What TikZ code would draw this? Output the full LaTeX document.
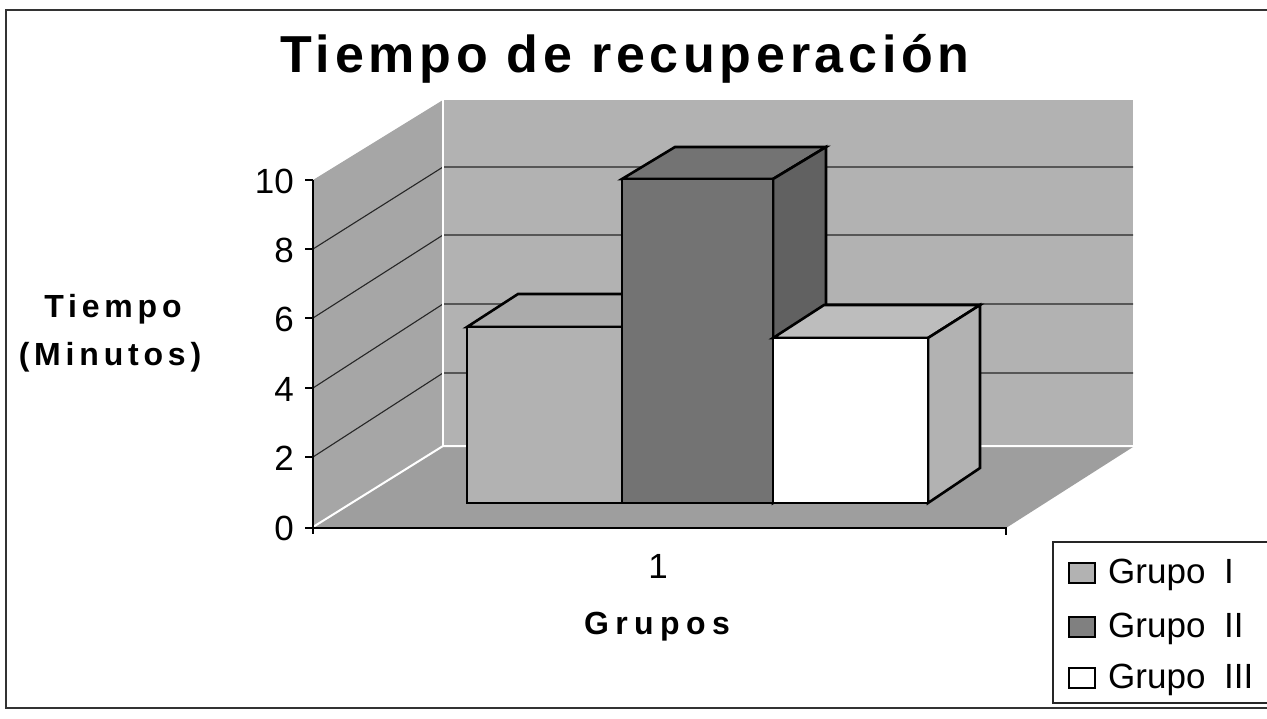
\documentclass[tikz,border=0pt]{standalone}
\usepackage{fontspec}
\setmainfont{Liberation Sans}
\newfontfamily\titlefont[LetterSpace=9]{Liberation Sans}
\newfontfamily\labfont[LetterSpace=15]{Liberation Sans}
\newfontfamily\grfont[LetterSpace=20]{Liberation Sans}
\begin{document}
\begin{tikzpicture}[x=1pt,y=-1pt,
  gridln/.style={black!85,line width=1.1pt},
  edgew/.style={white,line width=2pt},
  barline/.style={black,line width=2.6pt,line join=miter},
  ticklab/.style={font=\fontsize{35}{38}\selectfont,anchor=east,inner sep=0pt},
  leglab/.style={font=\fontsize{35}{38}\selectfont,anchor=base west,inner sep=0pt},
  swatch/.style={draw=black,line width=2.2pt},
  boldlab/.style={font=\labfont\bfseries\fontsize{32}{35}\selectfont,inner sep=0pt}]
\useasboundingbox (0,0) rectangle (1267,718);
\fill[white] (0,0) rectangle (1267,718);
% outer frame (right side lies beyond the picture)
\draw[black!80,line width=1.6pt] (1275,10) -- (6,10) -- (6,708) -- (1275,708);
% title
\node[font=\titlefont\bfseries\fontsize{52}{60}\selectfont,anchor=base,inner sep=0pt] (title) at (625,72) {Tiempo de recuperación};
% walls and floor
\fill[black!35] (313,528) -- (313,180) -- (443,100) -- (443,447) -- cycle;
\fill[black!30] (443,100) rectangle (1133,447);
\fill[black!38] (313,528) -- (1006,528) -- (1133,447) -- (443,447) -- cycle;
% gridlines
\foreach \yf/\yb in {457/373,388/304,318/235,249/167}{
  \draw[gridln] (313,\yf) -- (443,\yb) -- (1133,\yb);
}
% light wall edges
\draw[edgew] (313,527) -- (443,446) -- (1133,446);
\draw[edgew] (443,100) -- (443,446);
% axes
\draw[black,line width=1.5pt] (313,180) -- (313,534);
\draw[black,line width=1.5pt] (313,528) -- (1006,528) -- (1006,535);
\foreach \y in {180,249,318,388,457,528}{
  \draw[black,line width=1.3pt] (305,\y) -- (313,\y);
}
% tick labels
\node[ticklab] (t10) at (294,181) {10};
\node[ticklab] (t8) at (294,250) {8};
\node[ticklab] (t6) at (294,319) {6};
\node[ticklab] (t4) at (294,389) {4};
\node[ticklab] (t2) at (294,458) {2};
\node[ticklab] (t0) at (294,528) {0};
% bar I
\filldraw[barline,fill=black!33] (467,327) -- (518,294) -- (673,294) -- (622,327) -- cycle;
\filldraw[barline,fill=black!30] (467,327) rectangle (622,503);
% bar II
\filldraw[barline,fill=black!55] (622,179) -- (675,147) -- (826,147) -- (773,179) -- cycle;
\filldraw[barline,fill=black!62] (773,179) -- (826,147) -- (826,471) -- (773,503) -- cycle;
\filldraw[barline,fill=black!55] (622,179) rectangle (773,503);
% bar III
\filldraw[barline,fill=black!26] (773,338) -- (824,305) -- (980,305) -- (928,338) -- cycle;
\filldraw[barline,fill=black!30] (928,338) -- (980,305) -- (980,468) -- (928,503) -- cycle;
\filldraw[barline,fill=white] (773,338) rectangle (928,503);
% axis titles
\node[boldlab,anchor=base] (ylab1) at (113,317) {Tiempo};
\node[boldlab,anchor=base] (ylab2) at (110,365) {(Minutos)};
\node[font=\fontsize{35}{38}\selectfont,inner sep=0pt] (xt1) at (658,566) {1};
\node[font=\grfont\bfseries\fontsize{32}{35}\selectfont,inner sep=0pt] (xlab) at (657,627) {Grupos};
% legend (right side lies beyond the picture)
\draw[black!85,line width=1.5pt] (1275,542) -- (1053,542) -- (1053,703) -- (1275,703);
\filldraw[swatch,fill=black!30] (1069,563) rectangle (1095,583);
\filldraw[swatch,fill=black!50] (1069,617) rectangle (1095,637);
\filldraw[swatch,fill=white] (1069,668) rectangle (1095,688);
\node[leglab] (lg1) at (1108,583) {Grupo\hspace{9pt} I};
\node[leglab] (lg2) at (1108,637) {Grupo\hspace{9pt} II};
\node[leglab] (lg3) at (1108,688) {Grupo\hspace{9pt} III};
\end{tikzpicture}
\end{document}
